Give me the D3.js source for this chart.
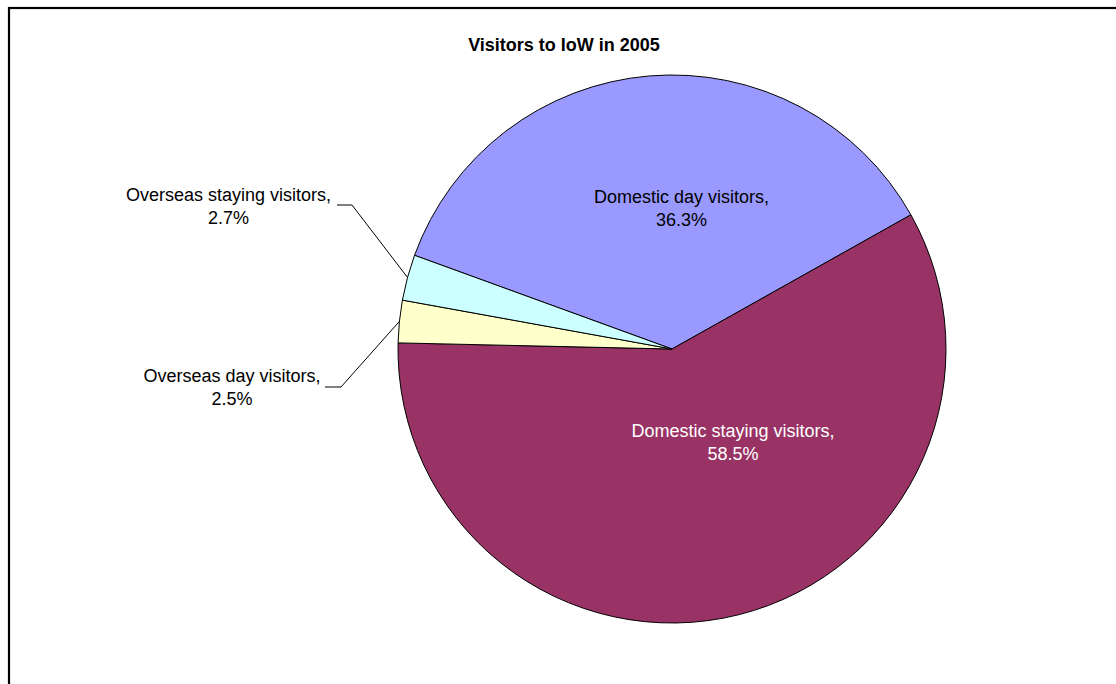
<!DOCTYPE html>
<html>
<head>
<meta charset="utf-8">
<script src="https://cdn.jsdelivr.net/npm/d3@7/dist/d3.min.js"></script>
<style>
  html, body { margin: 0; padding: 0; background: #fff; }
  svg { display: block; }
  text { font-family: Arial, "Liberation Sans", sans-serif; }
</style>
</head>
<body>
<svg id="chart" width="1116" height="684"></svg>
<script>
// Visitor mix, Isle of Wight 2005 (share of all visitors, %)
const title = "Visitors to IoW in 2005";
const categories = [
  "Domestic day visitors",
  "Domestic staying visitors",
  "Overseas day visitors",
  "Overseas staying visitors"
];
const shares = [36.3, 58.5, 2.5, 2.7];
const colours = ["#9999FF", "#993366", "#FFFFCC", "#CCFFFF"];

// Label placement relative to the pie centre (px). "inside" labels sit on
// the slice; "outside" labels are joined to the slice by a leader line.
const labelLayout = {
  "Domestic day visitors":     { type: "inside",  dx: 9.5,   dy: -146.5, fill: "#000" },
  "Domestic staying visitors": { type: "inside",  dx: 61,    dy: 88,     fill: "#fff" },
  "Overseas day visitors":     { type: "outside", dx: -440,  dy: 33,     fill: "#000",
                                 elbow: [-331, 38], end: [-347, 38] },
  "Overseas staying visitors": { type: "outside", dx: -443.5, dy: -148.5, fill: "#000",
                                 elbow: [-320, -144], end: [-335, -144] }
};

const W = 1116, H = 684;
const cx = 672, cy = 349, R = 274;
const firstSliceAngle = -70 * Math.PI / 180;

const svg = d3.select("#chart");

// chart area frame
svg.append("rect")
  .attr("x", 9).attr("y", 8)
  .attr("width", W + 20).attr("height", H + 20)
  .attr("fill", "#fff")
  .attr("stroke", "#000")
  .attr("stroke-width", 2.2);

svg.append("text")
  .attr("x", 564).attr("y", 50.5)
  .attr("text-anchor", "middle")
  .attr("font-size", 18)
  .attr("font-weight", "bold")
  .attr("fill", "#000")
  .text(title);

const data = categories.map((c, i) => ({ category: c, share: shares[i], colour: colours[i] }));

const pie = d3.pie()
  .sort(null)
  .value(d => d.share)
  .startAngle(firstSliceAngle)
  .endAngle(firstSliceAngle + 2 * Math.PI);

const arcs = pie(data);
const arc = d3.arc().innerRadius(0).outerRadius(R);
const rim = d3.arc().innerRadius(R).outerRadius(R);

const g = svg.append("g").attr("transform", `translate(${cx},${cy})`);

g.selectAll("path.slice")
  .data(arcs)
  .join("path")
  .attr("class", "slice")
  .attr("d", arc)
  .attr("fill", d => d.data.colour)
  .attr("stroke", "#000")
  .attr("stroke-width", 1)
  .attr("stroke-linejoin", "round");

// leader lines for the small slices
g.selectAll("polyline.leader")
  .data(arcs.filter(d => labelLayout[d.data.category].type === "outside"))
  .join("polyline")
  .attr("class", "leader")
  .attr("fill", "none")
  .attr("stroke", "#000")
  .attr("stroke-width", 1)
  .attr("points", d => {
    const L = labelLayout[d.data.category];
    return [rim.centroid(d), L.elbow, L.end].map(p => p.join(",")).join(" ");
  });

const labels = g.selectAll("text.label")
  .data(arcs)
  .join("text")
  .attr("class", "label")
  .attr("text-anchor", "middle")
  .attr("font-size", 18)
  .attr("fill", d => labelLayout[d.data.category].fill)
  .attr("transform", d => {
    const L = labelLayout[d.data.category];
    return `translate(${L.dx},${L.dy})`;
  });

labels.append("tspan")
  .attr("x", 0).attr("y", 0)
  .text(d => d.data.category + ",");
labels.append("tspan")
  .attr("x", 0).attr("y", 23)
  .text(d => d.data.share.toFixed(1) + "%");
</script>
</body>
</html>
